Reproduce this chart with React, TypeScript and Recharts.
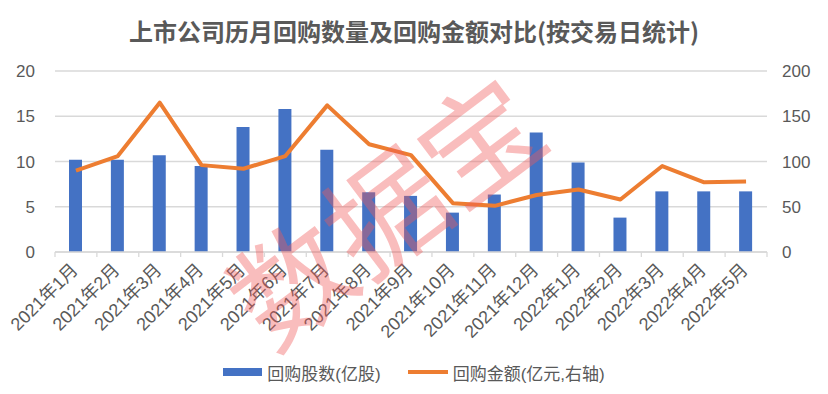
import {
  ComposedChart,
  Bar,
  Line,
  XAxis,
  YAxis,
  CartesianGrid,
  Legend,
} from "recharts";

const months = [
  "2021年1月", "2021年2月", "2021年3月", "2021年4月", "2021年5月", "2021年6月",
  "2021年7月", "2021年8月", "2021年9月", "2021年10月", "2021年11月", "2021年12月",
  "2022年1月", "2022年2月", "2022年3月", "2022年4月", "2022年5月",
];
// 回购股数 (亿股), left axis
const shares = [10.2, 10.2, 10.7, 9.5, 13.8, 15.8, 11.3, 6.6, 6.2, 4.35, 6.35, 13.2, 9.9, 3.8, 6.7, 6.7, 6.7];
// 回购金额 (亿元), right axis
const amounts = [90, 106, 165, 96, 92, 106, 162, 119, 107, 54, 51, 63, 69, 58, 95, 77, 78];

const leftTicks = [0, 5, 10, 15, 20];
const rightTicks = [0, 50, 100, 150, 200];

const data = months.map((m, i) => ({ month: m, shares: shares[i], amount: amounts[i] }));

const W = 828;
const H = 394;
const LEFT_W = 55;
const RIGHT_W = 61;
const BAND = (W - LEFT_W - RIGHT_W) / months.length;
const FONT = '"Noto Sans CJK SC", "Noto Sans", sans-serif';
const TICK_FONT = '"Liberation Sans", "Noto Sans CJK SC", sans-serif';
const GREY = "#595959";
const GRID = "#d9d9d9";

function MonthTick(props: any) {
  const { x, y, payload, index } = props;
  const ax = x + 3;
  const ay = y + 19;
  return (
    <g>
      <line x1={x - BAND / 2} x2={x - BAND / 2} y1={y} y2={y + 5} stroke={GRID} strokeWidth={1.3} />
      {index === months.length - 1 && (
        <line x1={x + BAND / 2} x2={x + BAND / 2} y1={y} y2={y + 5} stroke={GRID} strokeWidth={1.3} />
      )}
      <text
        x={ax}
        y={ay}
        transform={`rotate(-45 ${ax} ${ay})`}
        textAnchor="end"
        fill={GREY}
        fontSize={18}
        fontFamily={TICK_FONT}
      >
        {payload.value}
      </text>
    </g>
  );
}

function LegendBox() {
  return (
    <div
      style={{
        display: "flex",
        justifyContent: "center",
        alignItems: "center",
        height: 24,
        fontFamily: TICK_FONT,
        fontSize: 17,
        color: GREY,
      }}
    >
      <span style={{ display: "inline-block", width: 39, height: 8, background: "#4472C4", marginRight: 5 }} />
      <span>回购股数(亿股)</span>
      <span style={{ display: "inline-block", width: 40, height: 4, background: "#ED7D31", marginLeft: 27, marginRight: 5 }} />
      <span>回购金额(亿元,右轴)</span>
    </div>
  );
}

export default function App() {
  return (
    <div style={{ position: "relative", width: W, height: H, background: "#fff" }}>
      <style>{"body{margin:0}"}</style>
      <div
        style={{
          position: "absolute",
          top: 13,
          left: 0,
          width: W,
          textAlign: "center",
          fontFamily: FONT,
          fontSize: 24,
          fontWeight: "bold",
          color: GREY,
          lineHeight: "36px",
        }}
      >
        上市公司历月回购数量及回购金额对比(按交易日统计)
      </div>
      <ComposedChart
        width={W}
        height={H}
        data={data}
        margin={{ top: 71, right: 0, bottom: 10, left: 0 }}
      >
        <CartesianGrid yAxisId="left" vertical={false} stroke={GRID} strokeWidth={1.3} />
        <XAxis
          dataKey="month"
          height={108}
          interval={0}
          tickLine={false}
          tickSize={0}
          tickMargin={0}
          axisLine={{ stroke: GRID, strokeWidth: 1.5 }}
          tick={<MonthTick />}
        />
        <YAxis
          yAxisId="left"
          width={LEFT_W}
          domain={[0, 20]}
          ticks={leftTicks}
          axisLine={false}
          tickLine={false}
          tickSize={0}
          tickMargin={20}
          tick={{ fill: GREY, fontSize: 17, fontFamily: TICK_FONT }}
        />
        <YAxis
          yAxisId="right"
          orientation="right"
          width={RIGHT_W}
          domain={[0, 200]}
          ticks={rightTicks}
          axisLine={false}
          tickLine={false}
          tickSize={0}
          tickMargin={15}
          tick={{ fill: GREY, fontSize: 17, fontFamily: TICK_FONT }}
        />
        <Legend verticalAlign="bottom" content={() => <LegendBox />} />
        <Bar yAxisId="left" dataKey="shares" name="回购股数(亿股)" fill="#4472C4" barSize={13} isAnimationActive={false} />
        <Line
          yAxisId="right"
          dataKey="amount"
          name="回购金额(亿元,右轴)"
          type="linear"
          stroke="#ED7D31"
          strokeWidth={4}
          strokeLinejoin="round"
          dot={false}
          activeDot={false}
          isAnimationActive={false}
        />
      </ComposedChart>
      <div
        style={{
          position: "absolute",
          left: 382,
          top: 207,
          transform: "translate(-50%, -50%) rotate(-37deg)",
          fontFamily: FONT,
          fontSize: 118,
          lineHeight: "118px",
          letterSpacing: 0,
          whiteSpace: "nowrap",
          color: "rgba(240, 90, 90, 0.4)",
          pointerEvents: "none",
        }}
      >
        数据宝
      </div>
    </div>
  );
}
